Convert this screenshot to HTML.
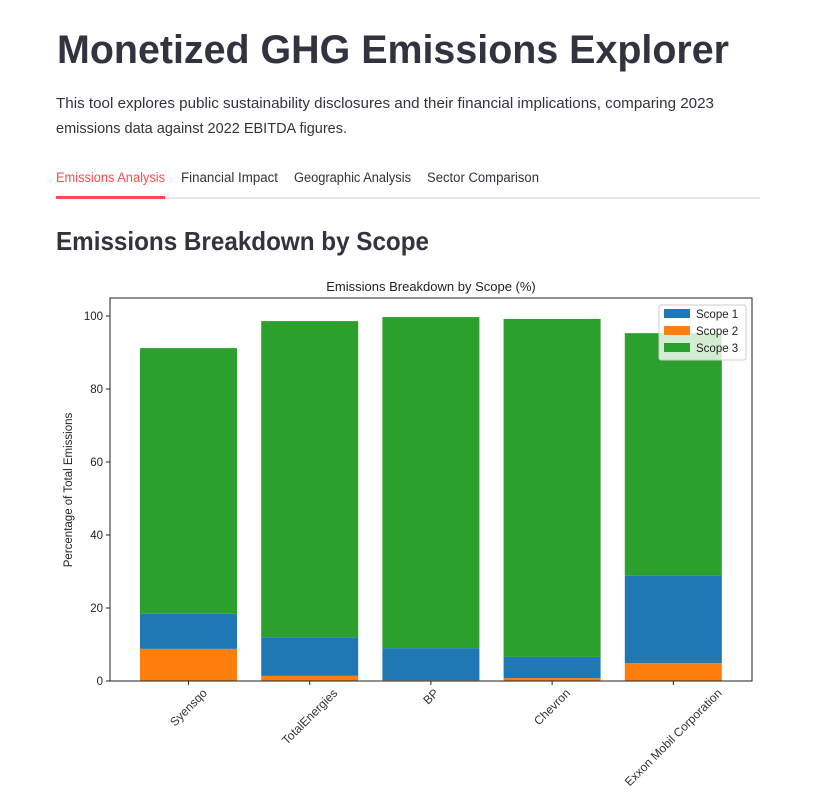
<!DOCTYPE html>
<html><head><meta charset="utf-8"><style>
html,body{margin:0;padding:0;background:#fff;width:825px;height:803px;overflow:hidden}
svg{display:block;font-family:"Liberation Sans",sans-serif}
</style></head><body>
<svg id="page" width="825" height="803" viewBox="0 0 825 803">
<text x="57" y="63" font-size="40" font-weight="bold" fill="#31333f" textLength="672" lengthAdjust="spacingAndGlyphs">Monetized GHG Emissions Explorer</text>
<text x="56" y="108" font-size="15" fill="#31333f" textLength="658" lengthAdjust="spacingAndGlyphs">This tool explores public sustainability disclosures and their financial implications, comparing 2023</text>
<text x="56" y="133" font-size="15" fill="#31333f" textLength="291" lengthAdjust="spacingAndGlyphs">emissions data against 2022 EBITDA figures.</text>
<text x="56" y="182" font-size="13.5" fill="#ff4b4b" textLength="109" lengthAdjust="spacingAndGlyphs">Emissions Analysis</text>
<text x="181" y="182" font-size="13.5" fill="#31333f" textLength="97" lengthAdjust="spacingAndGlyphs">Financial Impact</text>
<text x="294" y="182" font-size="13.5" fill="#31333f" textLength="117" lengthAdjust="spacingAndGlyphs">Geographic Analysis</text>
<text x="427" y="182" font-size="13.5" fill="#31333f" textLength="112" lengthAdjust="spacingAndGlyphs">Sector Comparison</text>
<rect x="56" y="197" width="704" height="2" fill="#e6e6ea"/>
<rect x="56" y="196" width="109" height="3" fill="#ff4b4b"/>
<text x="56" y="250" font-size="26" font-weight="bold" fill="#31333f" textLength="373" lengthAdjust="spacingAndGlyphs">Emissions Breakdown by Scope</text>
<g id="chart"></g>
</svg>
<script>
const companies=["Syensqo","TotalEnergies","BP","Chevron","Exxon Mobil Corporation"];
const scope1=[9.6,10.6,8.8,5.8,23.9];
const scope2=[8.8,1.4,0.2,0.8,4.9];
const scope3=[72.8,86.6,90.7,92.6,66.5];
const yTicks=[0,20,40,60,80,100];
const NS="http://www.w3.org/2000/svg";
const g=document.getElementById('chart');
const L=110,R=752,T=298,B=681;
const y=v=>B-v*3.65;
const band=121.2,x0=188.5,bw=97;
const xc=i=>x0+i*band;
function mk(t,a,txt){const e=document.createElementNS(NS,t);for(const k in a)e.setAttribute(k,a[k]);if(txt!==undefined)e.textContent=txt;g.appendChild(e);return e;}
let e=mk('text',{x:431,y:291,'font-size':13,'text-anchor':'middle',fill:'#222'},'Emissions Breakdown by Scope (%)');


const cols=['#1f77b4','#ff7f0e','#2ca02c'];
companies.forEach((c,i)=>{
  const segs=[[scope2[i],0,1],[scope1[i],scope2[i],0],[scope3[i],scope2[i]+scope1[i],2]];
  const names=['scope2','scope1','scope3'];
  segs.forEach((s,j)=>{
    const r=mk('rect',{x:xc(i)-bw/2,y:y(s[1]+s[0]),width:bw,height:s[0]*3.65,fill:cols[s[2]]});
    
    
  });
  mk('line',{x1:xc(i),x2:xc(i),y1:B,y2:B+4,stroke:'#222'});
  const t=mk('text',{x:0,y:4,'font-size':12,'text-anchor':'middle',fill:'#333'},c);
  const w=t.getComputedTextLength();
  const h=(w/2)*0.7071+6;
  t.setAttribute('transform',`translate(${xc(i)},${B+4+h}) rotate(-45)`);
  
  
});
yTicks.forEach(v=>{
  mk('line',{x1:L-4,x2:L,y1:y(v),y2:y(v),stroke:'#222'});
  const t=mk('text',{x:L-7,y:y(v)+4,'font-size':11.5,'text-anchor':'end',fill:'#222'},v);
  
  
});
e=mk('rect',{x:L,y:T,width:R-L,height:B-T,fill:'none',stroke:'#222','stroke-width':1});


e=mk('text',{x:0,y:0,'font-size':11.5,'text-anchor':'middle',fill:'#222',transform:`translate(72,490) rotate(-90)`},'Percentage of Total Emissions');


e=mk('rect',{x:659,y:305,width:87,height:55,rx:2,fill:'#fff','fill-opacity':0.8,stroke:'#ccc'});


['Scope 1','Scope 2','Scope 3'].forEach((n,k)=>{
  mk('rect',{x:664,y:309+k*17,width:26,height:9,fill:cols[k]});
  const t=mk('text',{x:696,y:318+k*17,'font-size':11.5,fill:'#222'},n);
  
  
});
</script>
</body></html>
